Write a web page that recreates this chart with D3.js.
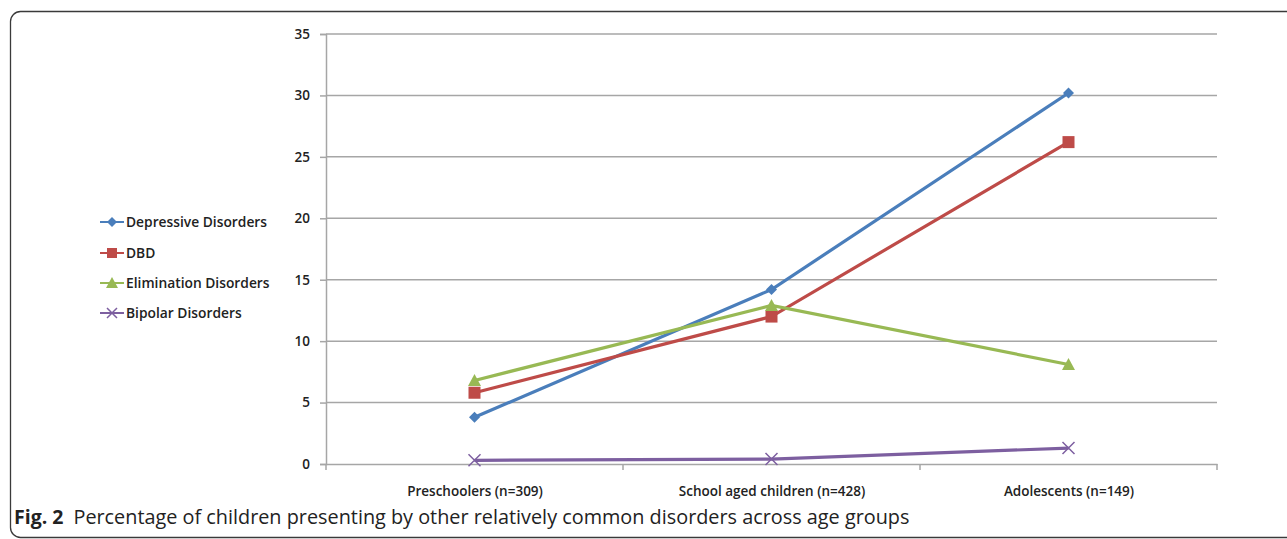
<!DOCTYPE html>
<html><head><meta charset="utf-8">
<script src="https://cdn.jsdelivr.net/npm/d3@7"></script>
<style>body{margin:0;background:#fff}svg{display:block}</style>
</head><body>
<svg id="c" width="1287" height="539"></svg>
<script>
const categories = ["Preschoolers (n=309)", "School aged children (n=428)", "Adolescents (n=149)"];
const seriesNames = ["Depressive Disorders", "DBD", "Elimination Disorders", "Bipolar Disorders"];
const depressive = [3.8, 14.2, 30.2];
const dbd = [5.8, 12.0, 26.2];
const elimination = [6.8, 12.9, 8.1];
const bipolar = [0.3, 0.4, 1.3];
const yTicks = [0, 5, 10, 15, 20, 25, 30, 35];
const caption = "Percentage of children presenting by other relatively common disorders across age groups";

const colors = ["#4A7EBB", "#BE4B48", "#98B954", "#7D5FA0"];
const markers = ["diamond", "square", "triangle", "cross"];
const data = [depressive, dbd, elimination, bipolar];

const svg = d3.select("#c");
svg.append("rect").attr("x", 10.5).attr("y", 11.5).attr("width", 1320).attr("height", 526)
  .attr("rx", 10).attr("fill", "none").attr("stroke", "#3a3a3a").attr("stroke-width", 1.3);

const L = 326, R = 1217, T = 34, B = 464;
const x = d3.scalePoint().domain(categories).range([L, R]).padding(0.5);
const xBand = d3.scaleBand().domain(categories).range([L, R]);
const y = d3.scaleLinear().domain([0, 35]).range([B, T]);

const grid = "#a6a6a6";
const font = "Open Sans, sans-serif";
svg.append("g").selectAll("line").data(yTicks.filter(d => d > 0)).join("line")
  .attr("x1", L).attr("x2", R).attr("y1", d => y(d)).attr("y2", d => y(d))
  .attr("stroke", grid).attr("stroke-width", 1.5);

const yAxis = svg.append("g").attr("transform", `translate(${L},0)`)
  .call(d3.axisLeft(y).tickValues(yTicks).tickSize(6).tickPadding(10));
yAxis.select(".domain").attr("stroke", grid).attr("stroke-width", 1.5);
yAxis.selectAll(".tick line").attr("stroke", grid).attr("stroke-width", 1.5);
yAxis.selectAll("text").attr("font-family", font).attr("font-size", 13.5)
  .attr("font-weight", 600).attr("fill", "#222");

const xAxis = svg.append("g").attr("transform", `translate(0,${B})`)
  .call(d3.axisBottom(x).tickSize(0).tickPadding(22));
xAxis.select(".domain").attr("stroke", grid).attr("stroke-width", 1.5);
xAxis.selectAll("text").attr("font-family", font).attr("font-size", 13.5)
  .attr("font-weight", 600).attr("fill", "#222");
const bounds = categories.map(c => xBand(c)).concat([R]);
svg.append("g").selectAll("line").data(bounds).join("line")
  .attr("x1", d => d).attr("x2", d => d).attr("y1", B).attr("y2", B + 6)
  .attr("stroke", grid).attr("stroke-width", 1.5);

function drawMarker(g, type, color, s) {
  if (type === "diamond") {
    g.append("path").attr("d", `M0,${-s}L${s},0L0,${s}L${-s},0Z`).attr("fill", color);
  } else if (type === "square") {
    g.append("rect").attr("x", -s).attr("y", -s).attr("width", 2 * s).attr("height", 2 * s).attr("fill", color);
  } else if (type === "triangle") {
    g.append("path").attr("d", `M0,${-s - 1}L${s + 1},${s}L${-s - 1},${s}Z`).attr("fill", color);
  } else {
    g.append("path").attr("d", `M${-s},${-s}L${s},${s}M${-s},${s}L${s},${-s}`)
      .attr("stroke", color).attr("stroke-width", 1.5).attr("fill", "none");
  }
}
const msize = [5.5, 6, 5.5, 6];

const line = d3.line().x((d, i) => x(categories[i])).y(d => y(d));
data.forEach((vals, k) => {
  svg.append("path").datum(vals).attr("d", line).attr("fill", "none")
    .attr("stroke", colors[k]).attr("stroke-width", 3.2);
  vals.forEach((v, i) => {
    const g = svg.append("g").attr("transform", `translate(${x(categories[i])},${y(v)})`);
    drawMarker(g, markers[k], colors[k], msize[k]);
  });
});

const leg = svg.append("g");
const legY = [222, 253, 283, 313];
seriesNames.forEach((n, k) => {
  const g = leg.append("g").attr("transform", `translate(0,${legY[k]})`);
  g.append("line").attr("x1", 100).attr("x2", 124).attr("y1", 0).attr("y2", 0)
    .attr("stroke", colors[k]).attr("stroke-width", 2);
  const m = g.append("g").attr("transform", "translate(112,0)");
  drawMarker(m, markers[k], colors[k], 5);
  g.append("text").attr("x", 126).attr("y", 5).text(n)
    .attr("font-family", font).attr("font-size", 13.8).attr("font-weight", 600).attr("fill", "#222");
});

const cap = svg.append("text").attr("x", 14).attr("y", 524)
  .attr("font-family", font).attr("font-size", 19.5).attr("fill", "#222");
cap.append("tspan").attr("font-weight", 700).text("Fig. 2");
cap.append("tspan").attr("dx", 10).text(caption).attr("textLength", 836).attr("lengthAdjust", "spacingAndGlyphs");
</script>
</body></html>
